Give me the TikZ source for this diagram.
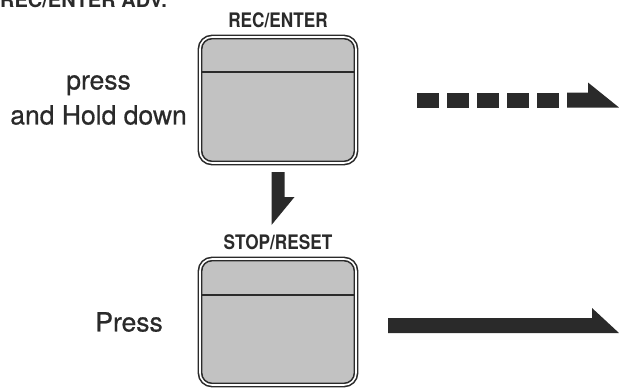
\documentclass[tikz,border=0pt]{standalone}
\usepackage{fontspec}
\setmainfont{TeX Gyre Heros}
\newfontfamily\keyfont[FakeStretch=0.86]{TeX Gyre Heros}
\newfontfamily\hintfont[FakeBold=0.6]{TeX Gyre Heros}
\usetikzlibrary{positioning}
\definecolor{ink}{HTML}{2A2A2A}
\definecolor{keygrey}{HTML}{C2C2C2}

\begin{document}
\begin{tikzpicture}[
    x=1pt, y=-1pt,
    node distance=9pt,
    key/.style={
        draw=ink,
        double=white,
        double distance=1.6pt,
        line width=1.6pt,
        fill=keygrey,
        rounded corners=12pt,
        minimum width=156pt,
        minimum height=126pt,
        inner sep=0pt,
        outer sep=0pt
    },
    keylabel/.style={
        font=\keyfont\bfseries\fontsize{20}{24}\selectfont,
        text=ink,
        inner sep=0pt,
        text depth=0pt
    },
    hint/.style={
        font=\hintfont\fontsize{26.5}{35}\selectfont,
        text=ink,
        align=center,
        inner sep=0pt
    },
    divider/.style={
        draw=ink,
        line width=1.7pt,
        shorten <=1.5pt,
        shorten >=1.5pt
    },
    bar/.style={
        fill=ink
    }
]
\clip (0,0) rectangle (619,388);
% cut-off heading at the top edge
\node[keylabel, font=\bfseries\fontsize{20}{24}\selectfont, anchor=base west] (header) at (0,8) {REC/ENTER ADV.};
% the two keys
\node[key] (rec) at (278,100) {};
\node[key] (stop) at (278,322) {};
\draw[divider] ([yshift=-35pt]rec.north west) -- ([yshift=-35pt]rec.north east);
\draw[divider] ([yshift=-36pt]stop.north west) -- ([yshift=-36pt]stop.north east);
\node[keylabel, above=of rec] (reclabel) {REC/ENTER};
\node[keylabel, above=of stop] (stoplabel) {STOP/RESET};
% hints
\node[hint, left=13pt of rec] (hold) {press\\and Hold down};
\node[hint, left=37pt of stop] (press) {Press};
% arrow down from REC/ENTER
\fill[bar] ([xshift=-6.5pt,yshift=-9pt]rec.south) -- ++(13,0) -- ++(0,25) -- ++(10,0) -- ++(-23,28) -- cycle;
% dashed arrow
\coordinate (dashstart) at ([xshift=61pt]rec.east);
\foreach \i in {0,...,4}
    \fill[bar] ([xshift=\i*30pt]dashstart) ++(0,-7.5) rectangle ++(22,15);
\fill[bar] ([xshift=150pt]dashstart) ++(0,-7.5) -- ++(21,0) -- ++(0,-10) -- ++(31,25) -- ++(-52,0) -- cycle;
% solid arrow
\coordinate (pressstart) at ([xshift=32pt,yshift=-3.5pt]stop.east);
\fill[bar] (pressstart) ++(0,-7.5) -- ++(204,0) -- ++(0,-10) -- ++(27,25) -- ++(-231,0) -- cycle;
\end{tikzpicture}
\end{document}
